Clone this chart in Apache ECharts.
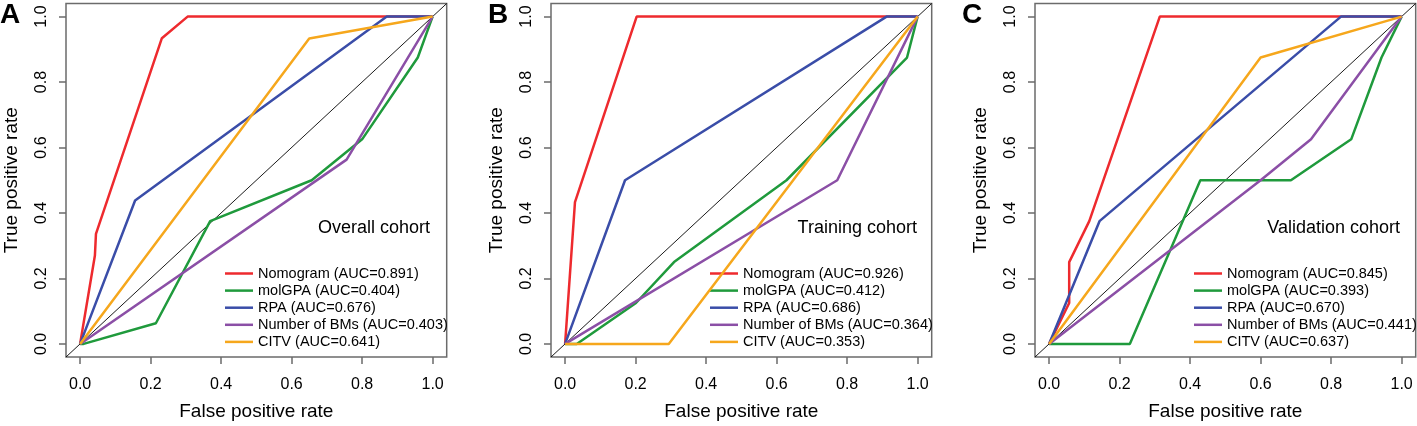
<!DOCTYPE html>
<html>
<head>
<meta charset="utf-8">
<script src="https://cdn.jsdelivr.net/npm/echarts@6/dist/echarts.min.js"></script>
<style>
html,body{margin:0;padding:0;background:#fff;}
#chart{width:1417px;height:426px;}
</style>
</head>
<body>
<div id="chart"></div>
<script>
// ---- data ----
const axisRange = [-0.04, 1.04];
const tickValues = [0, 0.2, 0.4, 0.6, 0.8, 1.0];
const modelNames = ['Nomogram', 'molGPA', 'RPA', 'Number of BMs', 'CITV'];
const panelLetters = ['A', 'B', 'C'];
const cohortLabels = ['Overall cohort', 'Training cohort', 'Validation cohort'];

const aucA = ['0.891', '0.404', '0.676', '0.403', '0.641'];
const aucB = ['0.926', '0.412', '0.686', '0.364', '0.353'];
const aucC = ['0.845', '0.393', '0.670', '0.441', '0.637'];

// Panel A (overall)
const A_nomogram_fpr = [0, 0.042, 0.045, 0.232, 0.305, 1];
const A_nomogram_tpr = [0, 0.27, 0.336, 0.934, 1, 1];
const A_molGPA_fpr = [0, 0.01, 0.215, 0.369, 0.657, 0.80, 0.958, 1];
const A_molGPA_tpr = [0, 0, 0.063, 0.375, 0.5, 0.625, 0.875, 1];
const A_rpa_fpr = [0, 0.156, 0.870, 1];
const A_rpa_tpr = [0, 0.438, 1, 1];
const A_bms_fpr = [0, 0.756, 1];
const A_bms_tpr = [0, 0.563, 1];
const A_citv_fpr = [0, 0.650, 1];
const A_citv_tpr = [0, 0.933, 1];

// Panel B (training)
const B_nomogram_fpr = [0, 0.028, 0.203, 1];
const B_nomogram_tpr = [0, 0.433, 1, 1];
const B_molGPA_fpr = [0, 0.033, 0.201, 0.309, 0.628, 0.970, 1];
const B_molGPA_tpr = [0, 0, 0.125, 0.25, 0.5, 0.875, 1];
const B_rpa_fpr = [0, 0.170, 0.912, 1];
const B_rpa_tpr = [0, 0.5, 1, 1];
const B_bms_fpr = [0, 0.772, 1];
const B_bms_tpr = [0, 0.5, 1];
const B_citv_fpr = [0, 0.294, 1];
const B_citv_tpr = [0, 0, 1];

// Panel C (validation)
const C_nomogram_fpr = [0, 0.057, 0.057, 0.114, 0.314, 1];
const C_nomogram_tpr = [0, 0.125, 0.25, 0.375, 1, 1];
const C_molGPA_fpr = [0, 0.229, 0.429, 0.686, 0.857, 0.943, 1];
const C_molGPA_tpr = [0, 0, 0.5, 0.5, 0.625, 0.875, 1];
const C_rpa_fpr = [0, 0.143, 0.828, 1];
const C_rpa_tpr = [0, 0.375, 1, 1];
const C_bms_fpr = [0, 0.6, 0.743, 1];
const C_bms_tpr = [0, 0.5, 0.625, 1];
const C_citv_fpr = [0, 0.6, 1];
const C_citv_tpr = [0, 0.875, 1];

// ---- styling ----
const colors = ['#EE2A2E', '#1F9A3C', '#3A4DA8', '#8B4FA6', '#F6A71C'];
const FONT = '"Liberation Sans", Arial, Helvetica, sans-serif';
const gridLefts = [66, 551, 1035];
const gridW = 380.7;
const gridTop = 3.5;
const gridH = 355.5;
const cohortRight = [430, 917, 1400];
const letterLefts = [0, 488, 962];

const panels = [
  {auc: aucA, curves: [[A_nomogram_fpr, A_nomogram_tpr], [A_molGPA_fpr, A_molGPA_tpr], [A_rpa_fpr, A_rpa_tpr], [A_bms_fpr, A_bms_tpr], [A_citv_fpr, A_citv_tpr]]},
  {auc: aucB, curves: [[B_nomogram_fpr, B_nomogram_tpr], [B_molGPA_fpr, B_molGPA_tpr], [B_rpa_fpr, B_rpa_tpr], [B_bms_fpr, B_bms_tpr], [B_citv_fpr, B_citv_tpr]]},
  {auc: aucC, curves: [[C_nomogram_fpr, C_nomogram_tpr], [C_molGPA_fpr, C_molGPA_tpr], [C_rpa_fpr, C_rpa_tpr], [C_bms_fpr, C_bms_tpr], [C_citv_fpr, C_citv_tpr]]}
];

const zip = (xs, ys) => xs.map((x, i) => [x, ys[i]]);

const grid = [], xAxis = [], yAxis = [], series = [], legend = [], graphic = [];

panels.forEach((p, pi) => {
  grid.push({
    left: gridLefts[pi], top: gridTop, width: gridW, height: gridH,
    show: true, borderColor: '#6b6b6b', borderWidth: 1.5, containLabel: false
  });
  xAxis.push({
    type: 'value', gridIndex: pi, min: axisRange[0], max: axisRange[1], position: 'bottom',
    name: 'False positive rate', nameLocation: 'middle', nameGap: 45,
    nameTextStyle: {fontFamily: FONT, fontSize: 19, color: '#000'},
    axisLine: {show: false, onZero: false},
    splitLine: {show: false},
    axisTick: {show: true, inside: false, length: 7, customValues: tickValues, lineStyle: {color: '#6b6b6b', width: 1.5}},
    axisLabel: {customValues: tickValues, inside: false, margin: 20, fontFamily: FONT, fontSize: 16, color: '#000',
      formatter: v => v.toFixed(1)}
  });
  yAxis.push({
    type: 'value', gridIndex: pi, min: axisRange[0], max: axisRange[1], position: 'left',
    name: 'True positive rate', nameLocation: 'middle', nameGap: 45,
    nameTextStyle: {fontFamily: FONT, fontSize: 19, color: '#000'},
    axisLine: {show: false, onZero: false},
    splitLine: {show: false},
    axisTick: {show: true, inside: false, length: 7, customValues: tickValues, lineStyle: {color: '#6b6b6b', width: 1.5}},
    axisLabel: {customValues: tickValues, inside: false, rotate: 90, margin: 16, fontFamily: FONT, fontSize: 16, color: '#000',
      formatter: v => v.toFixed(1)}
  });
  // diagonal reference line
  series.push({
    type: 'line', xAxisIndex: pi, yAxisIndex: pi, silent: true,
    data: [[axisRange[0], axisRange[0]], [axisRange[1], axisRange[1]]],
    showSymbol: false, symbol: 'none', lineStyle: {color: '#000', width: 0.9},
    z: 1
  });
  const names = [];
  p.curves.forEach((c, ci) => {
    const nm = modelNames[ci] + ' (AUC=' + p.auc[ci] + ')';
    names.push(nm);
    series.push({
      name: nm, type: 'line', xAxisIndex: pi, yAxisIndex: pi,
      data: zip(c[0], c[1]),
      showSymbol: false, symbol: 'none',
      color: colors[ci],
      lineStyle: {color: colors[ci], width: 2.5},
      z: 2 + ci
    });
  });
  legend.push({
    data: names, orient: 'vertical',
    left: gridLefts[pi] + 154, top: 261,
    icon: 'rect', itemWidth: 28, itemHeight: 2.5, itemGap: 2.1,
    selectedMode: false,
    textStyle: {fontFamily: FONT, fontSize: 14.5, color: '#000', lineHeight: 15}
  });
  graphic.push({
    type: 'text', right: 1417 - cohortRight[pi], top: 219,
    style: {text: cohortLabels[pi], font: '18px ' + FONT, fill: '#000'}
  });
  graphic.push({
    type: 'text', left: letterLefts[pi], top: 1,
    style: {text: panelLetters[pi], font: 'bold 28px ' + FONT, fill: '#000'}
  });
});

const chart = echarts.init(document.getElementById('chart'), null, {renderer: 'canvas'});
chart.setOption({
  animation: false,
  backgroundColor: '#fff',
  grid, xAxis, yAxis, series, legend, graphic
});
</script>
</body>
</html>
